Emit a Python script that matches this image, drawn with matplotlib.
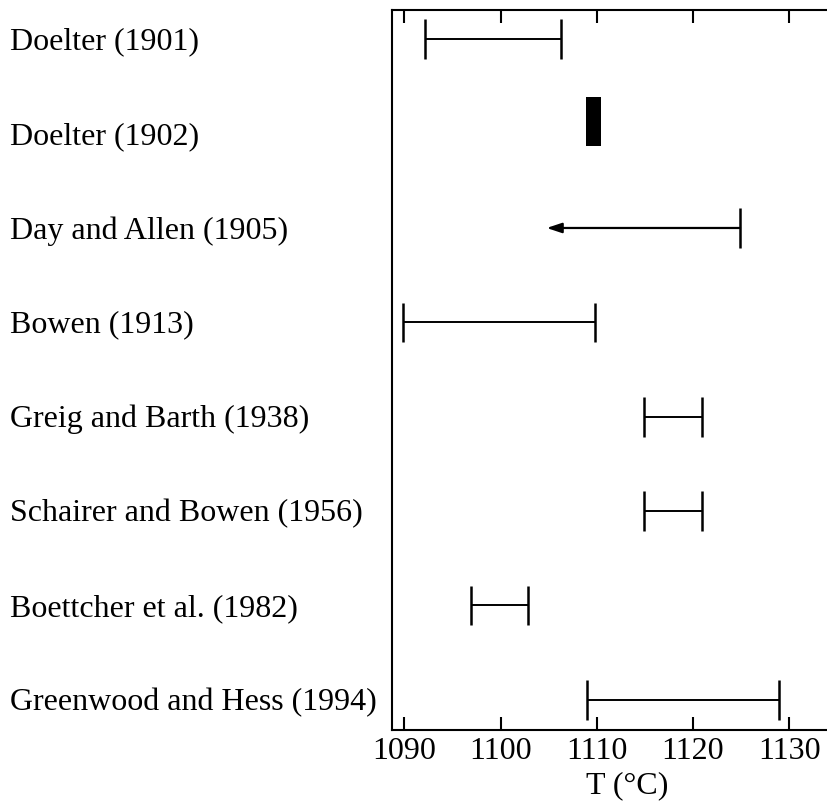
import matplotlib
matplotlib.use("Agg")
import matplotlib.pyplot as plt
from matplotlib.transforms import blended_transform_factory

plt.rcParams['font.family'] = ['Liberation Serif', 'DejaVu Serif']

studies = ["Doelter (1901)", "Doelter (1902)", "Day and Allen (1905)", "Bowen (1913)",
           "Greig and Barth (1938)", "Schairer and Bowen (1956)",
           "Boettcher et al. (1982)", "Greenwood and Hess (1994)"]
t_low = [1092.2, 1108.9, 1104.8, 1089.9, 1114.9, 1114.9, 1096.9, 1109.0]
t_high = [1106.3, 1110.4, 1124.9, 1109.8, 1120.9, 1120.9, 1102.9, 1129.0]
# 'range' = interval with end caps, 'bar' = solid block, 'upper' = upper bound with arrow
kind = ["range", "bar", "upper", "range", "range", "range", "range", "range"]
xticks = [1090, 1100, 1110, 1120, 1130]

fig = plt.figure(figsize=(8.28, 8.02), dpi=100)
# axes runs past the right edge of the figure (the original is cropped there)
ax = fig.add_axes([392 / 828, 72 / 802, (863 - 392) / 828, (730 - 10) / 802])

cap = 0.21
for i, (name, lo, hi, k) in enumerate(zip(studies, t_low, t_high, kind)):
    if k == "range":
        ax.hlines(i, lo, hi, color="black", lw=1.4)
        ax.vlines([lo, hi], i - cap, i + cap, color="black", lw=1.8)
    elif k == "bar":
        ax.barh(i - 0.13, hi - lo, left=lo, height=0.52, color="black")
    elif k == "upper":
        ax.vlines(hi, i - cap, i + cap, color="black", lw=1.8)
        ax.annotate("", xy=(lo, i), xytext=(hi, i),
                    arrowprops=dict(arrowstyle="-|>,head_length=0.9,head_width=0.3",
                                    color="black", lw=1.6, shrinkA=0, shrinkB=0))

trans = blended_transform_factory(fig.transFigure, ax.transData)
for i, name in enumerate(studies):
    ax.text(10 / 828, i + 0.03, name, transform=trans, ha="left", va="center", fontsize=23)

ax.set_xlim(1088.72, 1137.68)
ax.set_ylim(7.32, -0.31)
ax.set_yticks([])
ax.set_xticks(xticks)
ax.tick_params(axis="x", direction="in", top=True, bottom=True, length=9.5,
               width=1.5, labelsize=23, pad=5)
ax.set_xlabel("T (°C)", fontsize=23, labelpad=4)
ax.spines["right"].set_visible(False)
for s in ["left", "top", "bottom"]:
    ax.spines[s].set_linewidth(1.5)

fig.savefig("out.png", dpi=100)
